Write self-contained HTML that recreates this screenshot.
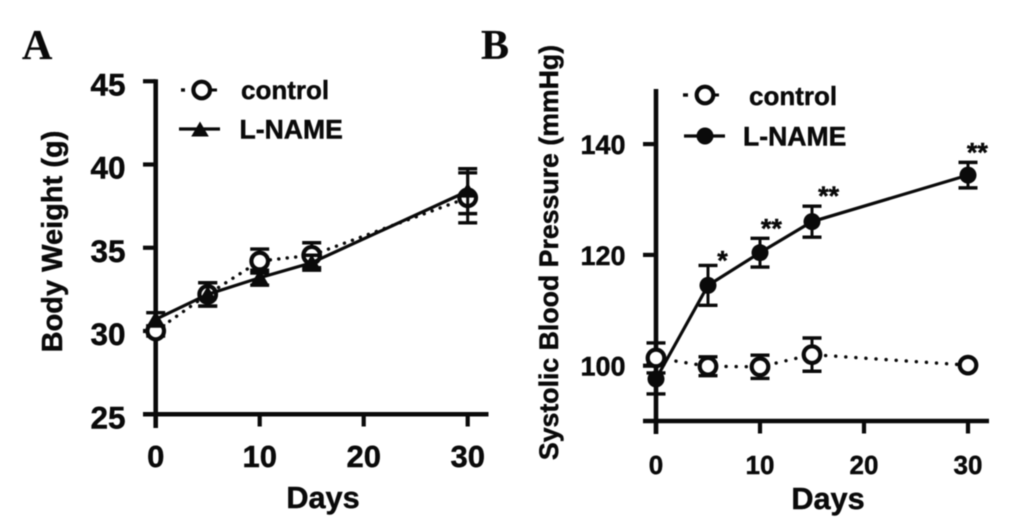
<!DOCTYPE html>
<html>
<head>
<meta charset="utf-8">
<style>
html,body{margin:0;padding:0;background:#fff;}
svg{display:block;filter:blur(0.45px);}
text{font-family:"Liberation Sans",Arial,sans-serif;font-weight:700;fill:#0a0a0a;stroke:#0a0a0a;stroke-width:0.45px;}
.panel{font-family:"Liberation Serif",serif;stroke-width:0.2px;}
</style>
</head>
<body>
<svg id="fig" xmlns="http://www.w3.org/2000/svg" width="1033" height="520" viewBox="0 0 1033 520">
<rect width="1033" height="520" fill="#fff"/>
</svg>
<script>
var days = [0, 5, 10, 15, 30];
var xTicks = [0, 10, 20, 30];

var weightTicks = [25, 30, 35, 40, 45];
var weightControl = [30.0, 32.2, 34.2, 34.55, 38.0];
var weightControlErr = [0.3, 0.7, 0.72, 0.75, 1.5];
var weightLname = [30.7, 32.2, 33.2, 34.1, 38.4];
var weightLnameErr = [0.4, 0.7, 0.45, 0.45, 1.35];

var pressureTicks = [100, 120, 140];
var pressureControl = [101.4, 99.9, 99.8, 102, 100.1];
var pressureControlErr = [2.7, 1.7, 2.1, 3.0, 0.3];
var pressureLname = [97.6, 114.5, 120.4, 126, 134.4];
var pressureLnameErr = [2.7, 3.6, 2.6, 2.8, 2.3];
var pressureStars = ['', '*', '**', '**', '**'];
var pressureStarDays = [0, 6.4, 11.1, 16.6, 30.9];

var NS = 'http://www.w3.org/2000/svg';
var fig = document.getElementById('fig');
var INK = '#0a0a0a';

function mk(tag, attrs, parent) {
  var el = document.createElementNS(NS, tag);
  for (var k in attrs) { el.setAttribute(k, attrs[k]); }
  (parent || fig).appendChild(el);
  return el;
}
function seg(x1, y1, x2, y2, w, parent) {
  return mk('line', {x1: x1, y1: y1, x2: x2, y2: y2, stroke: INK, 'stroke-width': w}, parent);
}
function label(str, x, y, size, anchor, parent, cls) {
  var t = mk('text', {x: x, y: y, 'font-size': size, 'text-anchor': anchor || 'start'}, parent);
  if (cls) { t.setAttribute('class', cls); }
  t.textContent = str;
  return t;
}
function group(name) {
  var g = mk('g', {});
  
  
  return g;
}
function polyline(xs, ys, attrs, parent) {
  var pts = xs.map(function (x, i) { return x + ',' + ys[i]; }).join(' ');
  var a = {points: pts, fill: 'none', stroke: INK};
  for (var k in attrs) { a[k] = attrs[k]; }
  return mk('polyline', a, parent);
}
function openCircle(cx, cy, parent) {
  return mk('circle', {cx: cx, cy: cy, r: 8.3, fill: '#fff', stroke: INK, 'stroke-width': 4.2}, parent);
}
function filledCircle(cx, cy, parent) {
  return mk('circle', {cx: cx, cy: cy, r: 8.5, fill: INK}, parent);
}
function triangle(cx, cy, parent) {
  var p = (cx - 8.8) + ',' + (cy + 6.5) + ' ' + cx + ',' + (cy - 8.5) + ' ' + (cx + 8.8) + ',' + (cy + 6.5);
  return mk('polygon', {points: p, fill: INK}, parent);
}
function errorBars(xs, vals, errs, sy, parent) {
  xs.forEach(function (x, i) {
    var top = sy(vals[i] + errs[i]);
    var bot = sy(vals[i] - errs[i]);
    seg(x, top, x, bot, 3, parent);
    seg(x - 9.5, top, x + 9.5, top, 3.4, parent);
    seg(x - 9.5, bot, x + 9.5, bot, 3.4, parent);
  });
}

/* Panel A scales */
function ax(d) { return 155.7 + d * 10.4; }
function ay(v) { return 331 - (v - 30) * 16.65; }
/* Panel B scales */
function bx(d) { return 656 + d * 10.4; }
function by(v) { return 365.7 - (v - 100) * 5.54; }

/* ---------- Panel A ---------- */
var labelA = group('panel-a-label');
label('A', 22, 59, 42, 'start', labelA, 'panel');

var axesA = group('panel-a-axes');
seg(ax(0), ay(45) - 2, ax(0), 428, 4.6, axesA);
seg(143, ay(25), 488.5, ay(25), 4.6, axesA);
weightTicks.forEach(function (v) {
  seg(143, ay(v), ax(0), ay(v), 4.2, axesA);
  label(String(v), 125.5, ay(v) + 14, 31.5, 'end', axesA);
});
xTicks.forEach(function (d) {
  seg(ax(d), ay(25), ax(d), 426.5, 4.2, axesA);
  label(String(d), ax(d), 467, 31, 'middle', axesA);
});
var yTitleA = label('Body Weight (g)', 0, 0, 29, 'middle', axesA);
yTitleA.setAttribute('transform', 'translate(62,241.5) rotate(-90)');


var xTitleA = label('Days', 323, 508, 30.7, 'middle', axesA);



var xsA = days.map(ax);
var ctlA = group('series-control-weight');
polyline(xsA, weightControl.map(ay), {'stroke-width': 3.4, 'stroke-dasharray': '0.1 8.4', 'stroke-linecap': 'round'}, ctlA);
errorBars(xsA, weightControl, weightControlErr, ay, ctlA);
xsA.forEach(function (x, i) { openCircle(x, ay(weightControl[i]), ctlA); });

var lnA = group('series-lname-weight');
polyline(xsA, weightLname.map(ay), {'stroke-width': 3.2}, lnA);
errorBars(xsA, weightLname, weightLnameErr, ay, lnA);
xsA.forEach(function (x, i) { triangle(x, ay(weightLname[i]), lnA); });

var legA = group('panel-a-legend');
seg(181, 90, 185, 90, 3.4, legA);
seg(197, 90, 217, 90, 3, legA);
openCircle(201.7, 90, legA);
label('control', 241, 99, 26, 'start', legA);
seg(179, 129, 220, 129, 3.2, legA);
triangle(200, 130, legA);
label('L-NAME', 239.5, 138.5, 26.6, 'start', legA);

/* ---------- Panel B ---------- */
var labelB = group('panel-b-label');
label('B', 481, 59, 42, 'start', labelB, 'panel');

var axesB = group('panel-b-axes');
seg(bx(0), 89, bx(0), 434, 4.6, axesB);
seg(643, 421, 989, 421, 4.6, axesB);
pressureTicks.forEach(function (v) {
  seg(643, by(v), bx(0), by(v), 4.2, axesB);
  label(String(v), 625.5, by(v) + 10, 27, 'end', axesB);
});
xTicks.forEach(function (d) {
  seg(bx(d), 421, bx(d), 433.5, 4.2, axesB);
  label(String(d), bx(d), 474, 26, 'middle', axesB);
});
var yTitleB = label('Systolic Blood Pressure (mmHg)', 0, 0, 26.7, 'middle', axesB);
yTitleB.setAttribute('transform', 'translate(558,252.5) rotate(-90)');


var xTitleB = label('Days', 828, 509, 30.7, 'middle', axesB);



var xsB = days.map(bx);
var lnB = group('series-lname-pressure');
polyline(xsB, pressureLname.map(by), {'stroke-width': 3.2}, lnB);
errorBars(xsB, pressureLname, pressureLnameErr, by, lnB);
xsB.forEach(function (x, i) { filledCircle(x, by(pressureLname[i]), lnB); });

var ctlB = group('series-control-pressure');
polyline(xsB, pressureControl.map(by), {'stroke-width': 3.4, 'stroke-dasharray': '0.1 10', 'stroke-linecap': 'round'}, ctlB);
errorBars(xsB, pressureControl, pressureControlErr, by, ctlB);
xsB.forEach(function (x, i) { openCircle(x, by(pressureControl[i]), ctlB); });

var starsB = group('significance-markers');
pressureStars.forEach(function (s, i) {
  if (s) {
    var top = by(pressureLname[i] + pressureLnameErr[i]);
    var lift = s.length === 1 ? 4 : -1;
    label(s, bx(pressureStarDays[i]), top + lift, 27, 'middle', starsB);
  }
});

var legB = group('panel-b-legend');
seg(683, 95, 688, 95, 3.4, legB);
seg(700, 95, 719, 95, 3, legB);
openCircle(705, 95, legB);
label('control', 749, 105, 26, 'start', legB);
seg(684, 136, 725, 136, 3.2, legB);
filledCircle(705, 136, legB);
label('L-NAME', 743, 145.7, 26.6, 'start', legB);
</script>
</body>
</html>
